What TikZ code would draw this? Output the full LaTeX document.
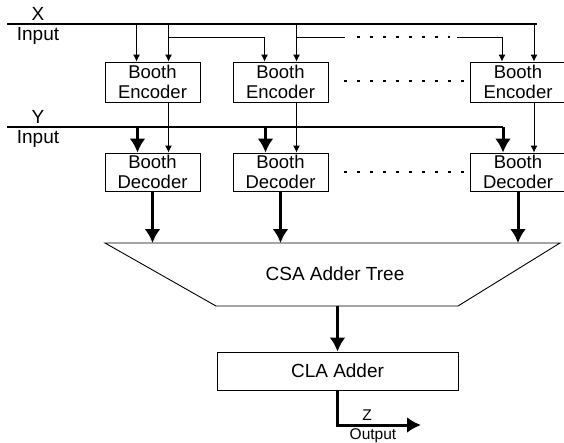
\documentclass[tikz,border=0pt]{standalone}
\usepackage{fontspec}
\setmainfont{Liberation Sans}
\usetikzlibrary{arrows.meta}

\tikzset{
  unitbox/.style={draw, line width=0.9pt, minimum width=95pt, minimum height=39pt,
    inner sep=0pt, align=center, font=\fontsize{18.5}{19.5}\selectfont},
  bus/.style={line width=2.6pt},
  label/.style={font=\fontsize{19}{20}\selectfont, inner sep=0pt},
  outlabel/.style={font=\fontsize{15.5}{16}\selectfont, inner sep=0pt},
  thinarrow/.style={line width=0.9pt, -{Latex[length=7pt,width=7pt]}},
  fatarrow/.style={line width=3pt, -{Latex[length=14pt,width=16pt]}},
  dotrow/.style={line width=2.2pt, dash pattern=on 2.5pt off 10.5pt},
}

\begin{document}
\begin{tikzpicture}[x=1pt,y=-1pt]
\useasboundingbox (0,0) rectangle (564,442);
% input buses
\coordinate (xl) at (7,24);
\coordinate (xr) at (537,24);
\coordinate (yl) at (7,127);
\draw[bus] (xl) -- (xr);
\node[label, anchor=south] (xname) at (38,21) {X};
\node[label, anchor=north] (xin) at (38,27) {Input};
\node[label, anchor=south] (yname) at (38,124) {Y};
\node[label, anchor=north] (yin) at (38,130) {Input};
% encoder / decoder columns
\foreach \i/\xc in {1/152.5,2/280.5,3/518}{
  \node[unitbox, minimum height=40pt] (enc\i) at (\xc,82) {Booth\\Encoder};
  \node[unitbox, minimum height=38pt] (dec\i) at (\xc,172) {Booth\\Decoder};
  \coordinate (el\i) at ([xshift=-16pt]enc\i.north);
  \coordinate (er\i) at ([xshift=16pt]enc\i.north);
  \coordinate (dl\i) at ([xshift=-15pt]dec\i.north);
  \coordinate (dr\i) at ([xshift=16pt]dec\i.north);
  \draw[thinarrow] (er\i |- xl) -- (er\i);
  \draw[thinarrow] ([xshift=16pt]enc\i.south) -- (dr\i);
}
\draw[thinarrow] (el1 |- xl) -- (el1);
% shifted taps
\draw[thinarrow] (er1 |- 0,37) -| (el2);
\draw[line width=0.9pt] (er2 |- 0,37) -- (345,37);
\draw[dotrow] (357,37) -- (450,37);
\draw[thinarrow] (457,37) -| (el3);
% Y bus and its branches
\draw[bus] (yl) -- (dl3 |- yl);
\foreach \i in {1,2,3}
  \draw[fatarrow] (dl\i |- yl) -- (dl\i);
% dotted gaps
\draw[dotrow] (344,81) -- (468,81);
\draw[dotrow] (344,172) -- (468,172);
% adder tree
\coordinate (tl) at (105,243);
\coordinate (tr) at (560,243);
\coordinate (br) at (458,306);
\coordinate (bl) at (216,306);
\draw[line width=0.9pt] (tl) -- (tr) -- (br) -- (bl) -- cycle;
\node[label] (csa) at (335,274) {CSA Adder Tree};
\foreach \i in {1,2,3}
  \draw[fatarrow] (dec\i.south) -- (dec\i.south |- tl);
\node[unitbox, minimum width=241pt, minimum height=38pt, font=\fontsize{19}{20}\selectfont] (cla) at (337.5,371) {CLA Adder};
\draw[fatarrow] (cla.north |- bl) -- (cla.north);
% output
\coordinate (zout) at (421,425);
\draw[fatarrow] (cla.south) |- (zout);
\node[outlabel, anchor=south] (zname) at (367,421) {Z};
\node[outlabel, anchor=north] (zlab) at (373,428.5) {Output};
\end{tikzpicture}
\end{document}
